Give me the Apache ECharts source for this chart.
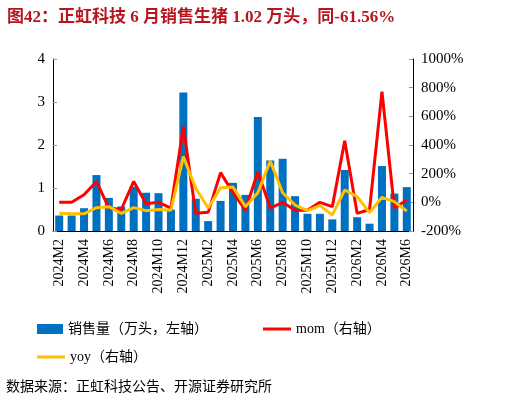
<!DOCTYPE html>
<html>
<head>
<meta charset="utf-8">
<script src="https://cdn.jsdelivr.net/npm/echarts@6/dist/echarts.min.js"></script>
<style>
  body{margin:0;background:#fff;}
  #chart{width:522px;height:405px;}
</style>
</head>
<body>
<div id="chart"></div>
<script>
var months = [];
// 2024M2 .. 2026M6
var ym = [[2024,2,12],[2025,1,12],[2026,1,6]];
ym.forEach(function(r){ for(var m=r[1];m<=r[2];m++) months.push(r[0]+'M'+m); });

var sales = [0.36,0.36,0.53,1.30,0.77,0.57,1.03,0.89,0.88,0.50,3.22,0.75,0.23,0.70,1.12,0.84,2.65,1.64,1.68,0.81,0.40,0.40,0.27,1.42,0.32,0.17,1.51,0.87,1.02];
var mom = [0,0,53,146,-40,-50,146,-10,0,-40,528,-77,-70,207,67,-55,214,-40,0,-55,-55,0,-30,430,-77,-50,772,-40,16];
var yoy = [-77,-80,-80,-37,-30,-77,-37,-58,-50,-55,319,98,-40,102,107,-30,67,288,67,-19,-58,-23,-88,86,40,-72,35,5,-61.56];

var serif = '"Liberation Serif","Noto Sans CJK SC",serif';
var legText = {fontFamily:serif, fontSize:14, color:'#000'};
var chart = echarts.init(document.getElementById('chart'));
chart.setOption({
  animation:false,
  title:{
    text:'图42：正虹科技 6 月销售生猪 1.02 万头，同-61.56%',
    left:2, top:4,
    textStyle:{color:'#b8161e', fontSize:17, fontWeight:'bold', fontFamily:serif}
  },
  graphic:[{type:'text', left:6, top:380,
    style:{text:'数据来源：正虹科技公告、开源证券研究所', font:'14px '+serif, fill:'#000'}}],
  legend:[{
    data:['销售量（万头，左轴）'], left:32, top:317, icon:'rect',
    itemWidth:26, itemHeight:10, textStyle:legText
  },{
    data:['mom（右轴）'], left:258, top:317, icon:'rect',
    itemWidth:28, itemHeight:3, textStyle:legText
  },{
    data:['yoy（右轴）'], left:32, top:345, icon:'rect',
    itemWidth:28, itemHeight:3, textStyle:legText
  }],
  grid:{left:53, right:109, top:59, bottom:174},
  xAxis:{
    type:'category', data:months,
    axisLine:{lineStyle:{color:'#000'}},
    axisTick:{inside:true, length:4, lineStyle:{color:'#999'}},
    axisLabel:{rotate:90, interval:1, color:'#000', fontSize:14, fontFamily:serif}
  },
  yAxis:[{
    type:'value', min:0, max:4, interval:1,
    axisLine:{show:true, lineStyle:{color:'#000'}},
    axisTick:{show:true, inside:true, length:4, lineStyle:{color:'#999'}},
    splitLine:{show:false},
    axisLabel:{color:'#000', fontSize:15, fontFamily:serif}
  },{
    type:'value', min:-200, max:1000, interval:200,
    axisLine:{show:true, lineStyle:{color:'#000'}},
    axisTick:{show:true, inside:true, length:4, lineStyle:{color:'#999'}},
    splitLine:{show:false},
    axisLabel:{formatter:function(v){ return v + '%'; }, color:'#000', fontSize:15, fontFamily:serif}
  }],
  series:[{
    name:'销售量（万头，左轴）', type:'bar', data:sales, barWidth:8,
    itemStyle:{color:'#0070c0'}
  },{
    name:'mom（右轴）', type:'line', yAxisIndex:1, data:mom,
    symbol:'none', lineStyle:{color:'#ff0000', width:3}, itemStyle:{color:'#ff0000'}
  },{
    name:'yoy（右轴）', type:'line', yAxisIndex:1, data:yoy,
    symbol:'none', lineStyle:{color:'#ffc000', width:3}, itemStyle:{color:'#ffc000'}
  }]
});
</script>
</body>
</html>
